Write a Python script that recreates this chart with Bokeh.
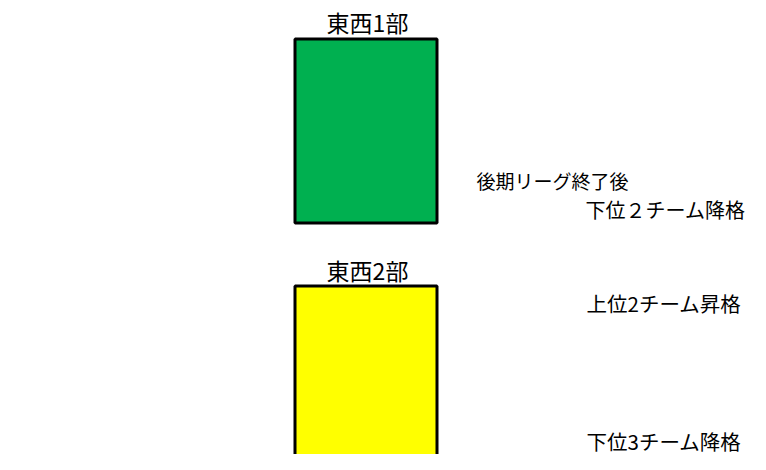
from bokeh.plotting import figure
from bokeh.models import Range1d
from bokeh.core.properties import value
from bokeh.embed import file_html
from bokeh.resources import INLINE

# --- data ---
divisions = ["東西1部", "東西2部"]
notes = ["後期リーグ終了後", "下位２チーム降格", "上位2チーム昇格", "下位3チーム降格"]

# --- layout (plot coordinates, y grows downward) ---
W, H = 750, 454
box_left = [294.5, 294.5]
box_right = [436.5, 436.5]
box_top = [38.5, 285.5]
box_bottom = [222.5, 500.0]
box_colors = ["#00B050", "#FFFF00"]
label_x = [367, 367]
label_y = [21, 269]
note_x = [476, 585, 586, 586]
note_y = [180, 209, 302, 440]
note_sizes = ["19px", "20px", "20.5px", "20.5px"]

FONT = value("Noto Sans CJK JP")

p = figure(width=W, height=H, output_backend="svg", toolbar_location=None,
           x_range=Range1d(0, W), y_range=Range1d(H, 0),
           min_border=0, outline_line_color=None, background_fill_color="white")
p.axis.visible = False
p.grid.visible = False

p.quad(left=box_left, right=box_right, top=box_top, bottom=box_bottom,
       fill_color=box_colors, line_color="black", line_width=3)

p.text(x=label_x, y=label_y, text=divisions, text_font=FONT,
       text_font_size="23px", text_align="center", text_baseline="middle",
       text_color="black")

for nx, ny, nt, ns in zip(note_x, note_y, notes, note_sizes):
    p.text(x=[nx], y=[ny], text=[nt], text_font=FONT,
           text_font_size=ns, text_align="left", text_baseline="middle",
           text_color="black")

open("out.html", "w").write(file_html(p, INLINE))
